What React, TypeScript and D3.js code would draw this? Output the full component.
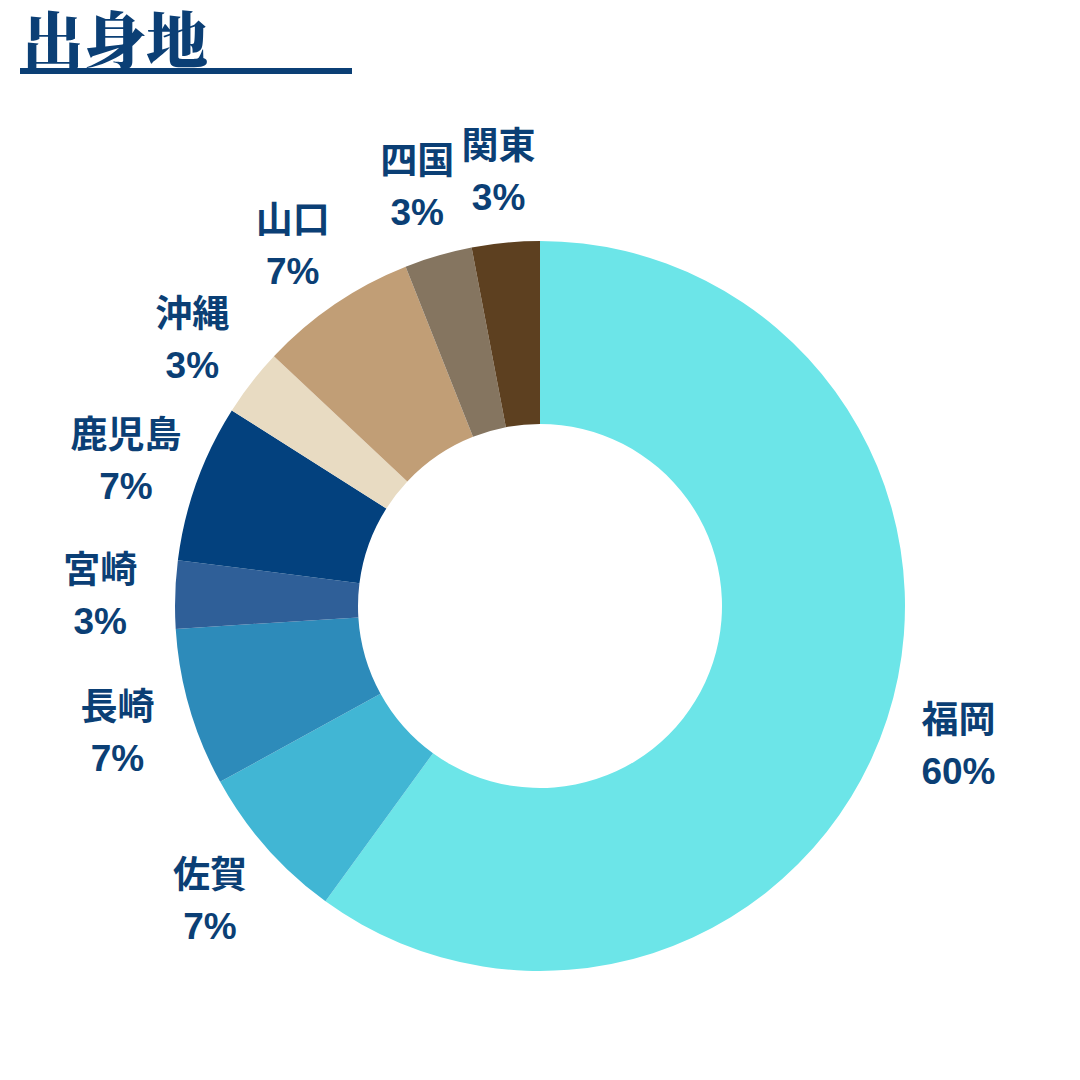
import React from "react";
import * as d3 from "d3";

const categories = ["福岡", "佐賀", "長崎", "宮崎", "鹿児島", "沖縄", "山口", "四国", "関東"];
const percents = [60, 7, 7, 3, 7, 3, 7, 3, 3];
const colors = ["#6CE5E8", "#41B6D4", "#2D8BBA", "#2F5F98", "#03417E", "#E8DBC2", "#C19E76", "#857560", "#5D4020"];
const title = "出身地";

export default function App() {
  const W = 1080, H = 1080;
  const cx = 540, cy = 606;
  const outerR = 365, innerR = 182, labelR = 440;
  const pie = d3.pie<number>().value((d) => d).sort(null);
  const arcs = pie(percents);
  const arc = d3.arc<d3.PieArcDatum<number>>().innerRadius(innerR).outerRadius(outerR);
  const textColor = "#0B3F75";
  const font = "'Liberation Sans', 'Noto Sans CJK JP', sans-serif";
  return (
    <svg width={W} height={H} style={{ position: "absolute", left: 0, top: 0, background: "#fff" }}>
      <rect width={W} height={H} fill="#fff" />
      <text x={22} y={64} fontSize={62} fontWeight={900} fill={textColor}
        fontFamily="'Noto Serif CJK JP', 'Noto Sans CJK JP', serif">{title}</text>
      <rect x={20} y={68} width={332} height={6} fill={textColor} />
      <g transform={`translate(${cx},${cy})`}>
        {arcs.map((a, i) => (
          <path key={i} d={arc(a) || ""} fill={colors[i]} />
        ))}
        {arcs.map((a, i) => {
          const mid = (a.startAngle + a.endAngle) / 2;
          const x = Math.sin(mid) * labelR;
          const y = -Math.cos(mid) * labelR;
          return (
            <g key={"l" + i} fontFamily={font} fontWeight={700} fontSize={37} fill={textColor} textAnchor="middle">
              <text x={x} y={y - 9}>{categories[i]}</text>
              <text x={x} y={y + 42}>{d3.format("d")(percents[i]) + "%"}</text>
            </g>
          );
        })}
      </g>
    </svg>
  );
}
